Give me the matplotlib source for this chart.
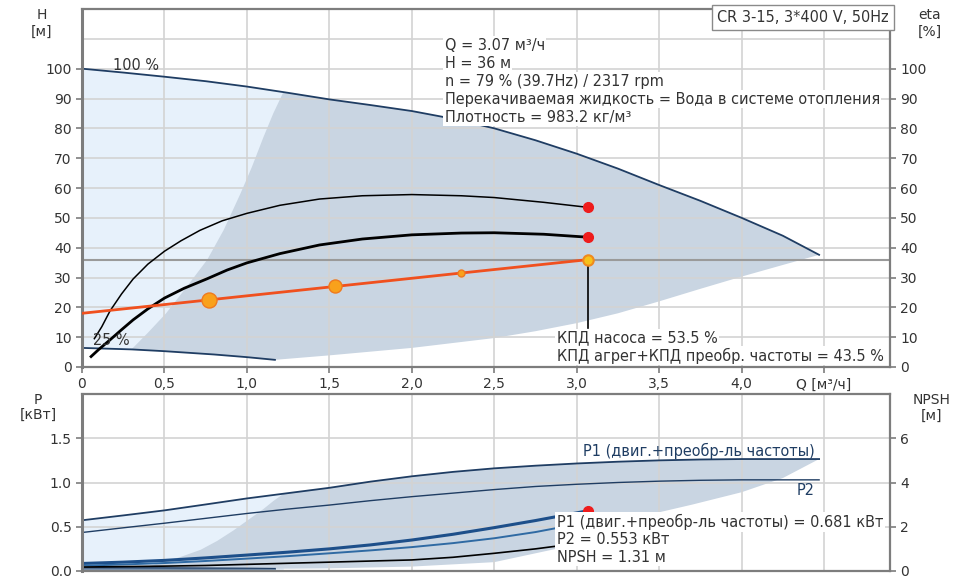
import matplotlib
matplotlib.use("Agg")
import matplotlib.pyplot as plt

plt.rcParams['font.family'] = ['DejaVu Sans']
plt.rcParams['font.size'] = 10
ANN = 10.45

# --- head / efficiency panel ---
q_max = [0, 0.25, 0.5, 0.75, 1.0, 1.25, 1.5, 1.75, 2.0, 2.25, 2.5, 2.75, 3.0, 3.25,
         3.5, 3.75, 4.0, 4.25, 4.47]
h_max = [100, 98.7, 97.3, 95.8, 94, 91.9, 89.7, 87.8, 85.8, 83.2, 80, 76, 71.5, 66.5,
         61, 55.7, 50, 44, 37.6]
q_min = [0, 0.3, 0.5, 0.8, 1.0, 1.17]
h_min = [6.4, 5.9, 5.3, 4.2, 3.3, 2.4]
q_left = [0.30, 0.4, 0.51, 0.63, 0.76, 0.86, 0.96, 1.03, 1.1, 1.16, 1.22]
h_left = [5.9, 11.5, 18, 26.5, 36, 46, 58, 67, 77, 85, 92]
q_low = [1.17, 1.5, 2.0, 2.5, 2.75, 3.0, 3.25, 3.5, 3.75, 4.0, 4.25, 4.47]
h_low = [2.4, 3.9, 6.4, 9.7, 12, 14.7, 18, 22, 26.2, 30.3, 34.2, 37.6]

q_eta = [0.075, 0.12, 0.17, 0.24, 0.31, 0.4, 0.5, 0.6, 0.715, 0.85, 1.0, 1.2, 1.44,
         1.7, 2.0, 2.3, 2.5, 2.8, 3.07]
eta_pump = [9.5, 13.5, 18.8, 24.5, 29.5, 34.5, 38.8, 42.3, 45.8, 49, 51.5, 54.2, 56.3,
            57.4, 57.8, 57.4, 56.8, 55.2, 53.5]
q_eta_tot = [0.055, 0.1, 0.17, 0.24, 0.31, 0.4, 0.5, 0.62, 0.76, 0.88, 1.0, 1.2, 1.44,
             1.7, 2.0, 2.3, 2.5, 2.8, 3.07]
eta_tot = [3.5, 5.8, 9.1, 12.5, 15.8, 19.5, 23.1, 26.4, 29.6, 32.5, 34.9, 38, 40.9,
           42.9, 44.3, 44.9, 45, 44.5, 43.5]

q_sys = [0, 0.77, 1.535, 2.30, 3.07]
h_sys = [18, 22.5, 27, 31.5, 36]
sys_marker = [10.8, 9.4, 5.0]

q_duty = 3.07
h_duty = 36
eta_duty = 53.5
eta_tot_duty = 43.5

# --- power / NPSH panel ---
q_p = [0, 0.25, 0.5, 0.75, 1.0, 1.25, 1.5, 1.75, 2.0, 2.25, 2.5, 2.75, 3.0, 3.25,
       3.5, 3.75, 4.0, 4.25, 4.47]
p1_max = [0.573, 0.628, 0.685, 0.752, 0.82, 0.88, 0.94, 1.01, 1.07, 1.12, 1.16, 1.19,
          1.215, 1.235, 1.25, 1.26, 1.265, 1.265, 1.265]
p2_max = [0.435, 0.488, 0.54, 0.595, 0.65, 0.70, 0.745, 0.795, 0.84, 0.88, 0.92, 0.955,
          0.98, 1.0, 1.015, 1.025, 1.03, 1.03, 1.03]
q_p_min = [0, 0.5, 1.0, 1.17]
p1_min = [0.035, 0.033, 0.028, 0.025]
p2_min = [0.02, 0.02, 0.017, 0.015]
q_p_left = [0.30, 0.4, 0.47, 0.6, 0.72, 0.82, 0.92, 1.01, 1.1, 1.16, 1.22]
p_left = [0.02, 0.05, 0.09, 0.16, 0.24, 0.34, 0.46, 0.58, 0.7, 0.79, 0.87]
q_p_low = [1.17, 1.5, 2.0, 2.5, 3.0, 3.4, 3.7, 4.0, 4.25, 4.47]
p_low = [0.025, 0.03, 0.05, 0.1, 0.3, 0.62, 0.75, 0.89, 1.05, 1.265]

q_op = [0, 0.25, 0.5, 0.75, 1.0, 1.25, 1.5, 1.75, 2.0, 2.25, 2.5, 2.75, 3.07]
p1_op = [0.085, 0.1, 0.12, 0.148, 0.18, 0.213, 0.25, 0.295, 0.35, 0.415, 0.49, 0.57, 0.681]
p2_op = [0.06, 0.074, 0.09, 0.113, 0.14, 0.168, 0.2, 0.233, 0.27, 0.315, 0.37, 0.44, 0.553]
npsh_op = [0.18, 0.2, 0.22, 0.25, 0.3, 0.35, 0.4, 0.45, 0.5, 0.62, 0.8, 1.0, 1.31]

x_ticks = [0, 0.5, 1.0, 1.5, 2.0, 2.5, 3.0, 3.5, 4.0, 4.5]
x_labels = ['0', '0,5', '1,0', '1,5', '2,0', '2,5', '3,0', '3,5', '4,0', 'Q [м³/ч]']

LIGHT = '#e7f1fb'
GRAY = '#c9d5e2'
NAVY = '#1f3d63'
TXT = '#333333'
SPINE = '#7d7d7d'
GRID = '#d3d3d3'

fig = plt.figure(figsize=(9.64, 5.79), dpi=100)
ax = fig.add_axes([82 / 964, 1 - 367 / 579, 808 / 964, 358 / 579])
axb = fig.add_axes([82 / 964, 1 - 571 / 579, 808 / 964, 177 / 579])


def style(a):
    for s in a.spines.values():
        s.set_color(SPINE)
        s.set_linewidth(1.6)
    a.spines['left'].set_linewidth(2.2)
    a.grid(True, color=GRID, lw=1.2)
    a.tick_params(colors=TXT, labelcolor=TXT, length=4, width=1.2)
    a.tick_params(axis='y', color=SPINE)
    a.tick_params(axis='x', color=SPINE)


# top panel
ax.set_xlim(0, 4.9)
ax.set_ylim(0, 120)
style(ax)
ax.set_xticks(x_ticks)
ax.set_xticklabels(x_labels)
ax.set_yticks(range(0, 120, 10))
ax.set_yticklabels([str(v) if v <= 100 else '' for v in range(0, 120, 10)])
ax.tick_params(axis='y', right=True, labelright=True)
for t in ax.yaxis.get_major_ticks():
    if t.get_loc() > 100:
        t.tick1line.set_visible(False)
        t.tick2line.set_visible(False)

# light zone: left of the operating area, between 100 % and 25 % curves
light_x = [q for q in q_max if q < 1.22] + [q_left[-1]] + q_min[::-1]
light_y = [h for q, h in zip(q_max, h_max) if q < 1.22] + [h_left[-1]] + h_min[::-1]
ax.fill(light_x, light_y, color=LIGHT, lw=0, zorder=0.5)
gray_x = q_left + [q for q in q_max if q > 1.22] + q_low[::-1] + [q for q in q_min[::-1] if q > 0.3]
gray_y = h_left + [h for q, h in zip(q_max, h_max) if q > 1.22] + h_low[::-1] + [h for q, h in zip(q_min[::-1], h_min[::-1]) if q > 0.3]
ax.fill(gray_x, gray_y, color=GRAY, lw=0, zorder=0.6)

ax.plot(q_max, h_max, color=NAVY, lw=1.3)
ax.plot(q_min, h_min, color=NAVY, lw=1.3)
ax.axhline(h_duty, color='#9a9a9a', lw=1.5, zorder=1.8)
ax.plot(q_eta, eta_pump, color='black', lw=1.1)
ax.plot(q_eta_tot, eta_tot, color='black', lw=2.0)
ax.plot(q_sys, h_sys, color='#f0501e', lw=2.0, zorder=3)
for q, h, m in zip(q_sys[1:4], h_sys[1:4], sys_marker):
    ax.plot(q, h, 'o', ms=m, mfc='#f9a11b', mec='#f07a1e', mew=1.0, zorder=4)
ax.plot(q_duty, h_duty, 'o', ms=7.5, mfc='#f7c21b', mec='#f08a1e', mew=1.5, zorder=5)
ax.plot([q_duty, q_duty], [h_duty, 13], color='black', lw=1.2, zorder=3)
ax.plot([q_duty, q_duty], [eta_duty, eta_tot_duty], 'o', ms=7, color='#ee1c1c',
        ls='none', zorder=5)

ax.text(0.19, 100.9, '100 %', color=TXT, va='center', ha='left', fontsize=ANN)
ax.text(0.067, 9.0, '25 %', color=TXT, va='center', ha='left', fontsize=ANN)

box = dict(boxstyle='square,pad=0.1', fc='white', ec='none')
info = ['Q = 3.07 м³/ч', 'H = 36 м', 'n = 79 % (39.7Hz) / 2317 rpm',
        'Перекачиваемая жидкость = Вода в системе отопления',
        'Плотность = 983.2 кг/м³']
for i, line in enumerate(info):
    ax.text(2.2, 107.8 - i * 6.03, line, color=TXT, va='center', ha='left', zorder=6,
            bbox=box, fontsize=ANN)

ax.text(2.88, 9.7, 'КПД насоса = 53.5 %', color=TXT, va='center', ha='left', zorder=6,
        bbox=box, fontsize=ANN)
ax.text(2.88, 3.7, 'КПД агрег+КПД преобр. частоты = 43.5 %', color=TXT, va='center',
        ha='left', zorder=6, bbox=box, fontsize=ANN)

ax.text(0.9985, 0.997, 'CR 3-15, 3*400 V, 50Hz', transform=ax.transAxes, color=TXT,
        ha='right', va='top', zorder=7, fontsize=ANN,
        bbox=dict(boxstyle='square,pad=0.35', fc='white', ec='#8a8a8a', lw=1.0))

# bottom panel
axb.set_xlim(0, 4.9)
axb.set_ylim(0, 2.0)
style(axb)
axb.set_xticks(x_ticks)
axb.tick_params(axis='x', length=0, labelbottom=False)
axb.set_yticks([0, 0.5, 1.0, 1.5])
axb.set_yticklabels(['0.0', '0.5', '1.0', '1.5'])
axr = axb.twinx()
axr.set_ylim(0, 8)
axr.set_yticks([0, 2, 4, 6])
axr.tick_params(colors=TXT, labelcolor=TXT, length=4, width=1.2)
axr.tick_params(axis='y', color=SPINE)
for s in axr.spines.values():
    s.set_visible(False)

lx = [q for q in q_p if q < 1.22] + [1.22]
ly = [p for q, p in zip(q_p, p1_max) if q < 1.22] + [p_left[-1]]
axb.fill_between(lx, ly, 0, color=LIGHT, lw=0, zorder=0.5)
gx = q_p_left + [q for q in q_p if q > 1.22] + q_p_low[::-1]
gy = p_left + [p for q, p in zip(q_p, p1_max) if q > 1.22] + p_low[::-1]
axb.fill(gx, gy, color=GRAY, lw=0, zorder=0.6)

axb.plot(q_p, p1_max, color=NAVY, lw=1.3)
axb.plot(q_p, p2_max, color=NAVY, lw=1.0)
axb.plot(q_p_min, p1_min, color=NAVY, lw=1.3)
axb.plot(q_p_min, p2_min, color='#6f8aa8', lw=1.0)
axb.plot(q_op, p1_op, color='#1d4f8a', lw=2.2)
axb.plot(q_op, p2_op, color='#2f6aa3', lw=1.4)
axb.plot(q_op, [v / 4 for v in npsh_op], color='black', lw=1.2)
axb.plot(q_duty, p1_op[-1], 'o', ms=7, color='#ee1c1c', zorder=5)

axb.text(3.04, 1.356, 'P1 (двиг.+преобр-ль частоты)', color=NAVY, va='center', ha='left',
         fontsize=ANN)
axb.text(4.44, 0.915, 'P2', color=NAVY, va='center', ha='right', fontsize=ANN)

out = ['P1 (двиг.+преобр-ль частоты) = 0.681 кВт', 'P2 = 0.553 кВт', 'NPSH = 1.31 м']
for i, line in enumerate(out):
    axb.text(2.88, 0.554 - i * 0.198, line, color=TXT, va='center', ha='left', zorder=6,
             bbox=box, fontsize=ANN)

# axis unit captions
for x, y, s in [(42, 15, 'H'), (42, 32, '[м]'), (930, 15, 'eta'), (930, 32, '[%]'),
                (38, 400, 'P'), (38, 415, '[кВт]'), (932, 400, 'NPSH'), (932, 416, '[м]')]:
    fig.text(x / 964, 1 - y / 579, s, color=TXT, ha='center', va='center')

fig.savefig('out.png', dpi=100)
